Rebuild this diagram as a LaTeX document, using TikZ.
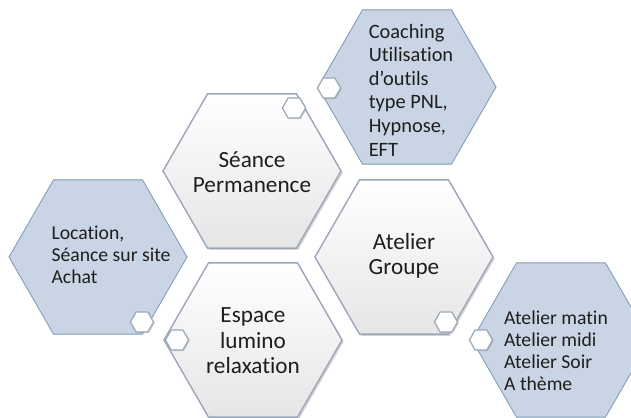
\documentclass[tikz,border=0pt]{standalone}
\usepackage{fontspec}
\setmainfont{Carlito}[Ligatures={NoCommon}]
\usetikzlibrary{shapes.geometric,shadows}

\definecolor{hexblue}{HTML}{C9D5E4}
\definecolor{hexline}{HTML}{7F9AB7}
\definecolor{hexgray}{HTML}{9AA8B8}
\definecolor{txt}{HTML}{1E1E1E}

\begin{document}
\begin{tikzpicture}[x=0.025cm, y=-0.025cm,
  hex/.style = {regular polygon, regular polygon sides=6, minimum size=4.45cm, inner sep=0pt, outer sep=0pt},
  whitehex/.style = {hex, draw=hexgray, line width=1pt, top color=white, bottom color=gray!20,
    drop shadow={opacity=0.35, shadow xshift=1.2pt, shadow yshift=-1.2pt}},
  bluehex/.style = {hex, draw=hexline, line width=0.6pt, fill=hexblue},
  minihex/.style = {regular polygon, regular polygon sides=6, minimum size=0.58cm, inner sep=0pt,
    draw=hexgray, line width=0.9pt, fill=white, drop shadow={opacity=0.3, shadow xshift=0.8pt, shadow yshift=-0.8pt}},
  bigtext/.style = {align=center, text=txt, font=\fontsize{16.5}{18.2}\selectfont},
  smalltext/.style = {align=left, text=txt, font=\fontsize{14}{15.6}\selectfont}]

\useasboundingbox (0,0) rectangle (631,417);

% Blue hexes
\node[bluehex] (coaching) at (407,87) {};
\node[bluehex] (location) at (98,257) {};
\node[bluehex] (matin) at (561,340) {};

% White hexes
\node[whitehex] (seance) at (252,171) {};
\node[whitehex] (groupe) at (404,257) {};
\node[whitehex] (espace) at (253,340) {};

% Small hexes
\node[minihex] (seance-dot) at (294,108) {};
\node[minihex] (coaching-dot) at (329,88) {};
\node[minihex] (location-dot) at (142,322) {};
\node[minihex] (groupe-dot) at (446,322) {};
\node[minihex] (espace-dot) at (177,340) {};
\node[minihex] (matin-dot) at (481,340) {};

% Texts
\node[bigtext] (seance-txt) at (252,172) {Séance\\Permanence};
\node[bigtext] (groupe-txt) at (404,256) {Atelier\\Groupe};
\node[bigtext] (espace-txt) at (253,341) {Espace\\lumino\\relaxation};
\node[smalltext, font=\fontsize{14.5}{16.8}\selectfont] (coaching-txt) at (411,90) {Coaching\\Utilisation\\d’outils\\type PNL,\\Hypnose,\\EFT};
\node[smalltext] (location-txt) at (111,255) {Location,\\Séance sur site\\Achat};
\node[smalltext] (matin-txt) at (556,351) {Atelier matin\\Atelier midi\\Atelier Soir\\A thème};

\end{tikzpicture}
\end{document}
